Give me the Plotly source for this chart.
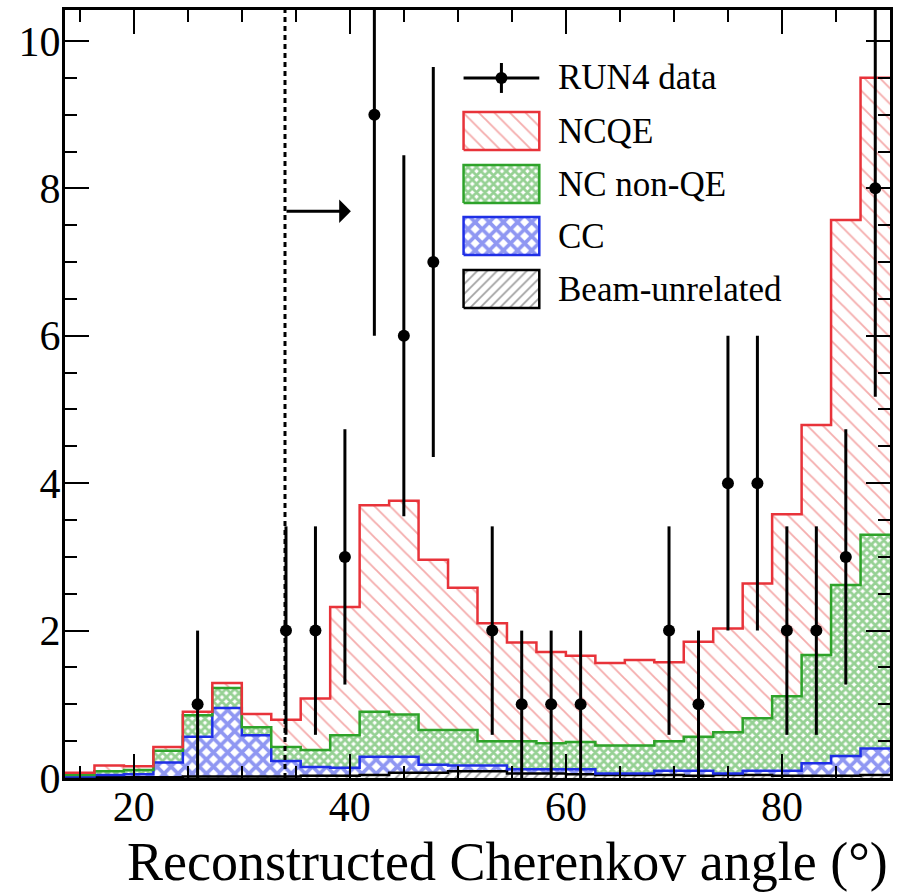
import numpy as np
import plotly.graph_objects as go

# ---------------- data (bins of width 90/33 deg, shown from bin 5 to bin 32) ----------------
N_BINS_TOTAL = 33
X_MAX = 90.0
FIRST_BIN = 5

ncqe = [0.03, 0.08, 0.05, 0.05, 0.05, 0.07, 0.18, 0.37, 0.70, 1.74, 2.80, 2.90, 2.31, 1.93,
        1.60, 1.34, 1.24, 1.17, 1.12, 1.16, 1.07, 1.29, 1.41, 1.83, 2.47, 3.12, 4.95, 6.20]
nc_nonqe = [0.02, 0.05, 0.06, 0.16, 0.29, 0.27, 0.11, 0.19, 0.23, 0.44, 0.61, 0.57, 0.47, 0.48,
            0.33, 0.38, 0.35, 0.37, 0.38, 0.38, 0.40, 0.46, 0.56, 0.71, 1.01, 1.47, 2.32, 2.90]
cc = [0.01, 0.03, 0.04, 0.20, 0.54, 0.93, 0.56, 0.21, 0.12, 0.11, 0.25, 0.22, 0.11, 0.08,
      0.08, 0.06, 0.06, 0.07, 0.02, 0.02, 0.06, 0.07, 0.02, 0.06, 0.07, 0.17, 0.27, 0.36]
beam_unrelated = [0.01, 0.01, 0.01, 0.01, 0.02, 0.02, 0.02, 0.02, 0.03, 0.03, 0.04, 0.07, 0.07, 0.09,
                  0.09, 0.06, 0.06, 0.05, 0.04, 0.04, 0.04, 0.03, 0.04, 0.04, 0.03, 0.03, 0.03, 0.04]
data_counts = [0, 0, 0, 0, 1, 0, 0, 2, 2, 3, 9, 6, 7, 0,
               2, 1, 1, 1, 0, 0, 2, 1, 4, 4, 2, 2, 3, 8]

labels = ["RUN4 data", "NCQE", "NC non-QE", "CC", "Beam-unrelated"]
CUT_ANGLE = 34.0
ARROW_END = 40.1
ARROW_Y = 7.69
Y_MAX = 10.42

# ---------------- derived ----------------
all_edges = np.linspace(0, X_MAX, N_BINS_TOTAL + 1)
edges = all_edges[FIRST_BIN:]
centers = 0.5 * (edges[:-1] + edges[1:])

comp = [np.array(beam_unrelated), np.array(cc), np.array(nc_nonqe), np.array(ncqe)]
cum = np.cumsum(np.vstack(comp), axis=0)

FONT = "Liberation Serif"
RED, GREEN, BLUE, BLACK = "#e8333a", "#2ea32a", "#1f2fe6", "#000000"
styles = [
    dict(line=BLACK, pat=dict(shape="/", fgcolor="#444444", bgcolor="white", size=7, solidity=0.25)),
    dict(line=BLUE, pat=dict(shape="x", fgcolor=BLUE, bgcolor="white", size=10, solidity=0.6)),
    dict(line=GREEN, pat=dict(shape="x", fgcolor=GREEN, bgcolor="white", size=6, solidity=0.72)),
    dict(line=RED, pat=dict(shape="\\", fgcolor="#ea5a5a", bgcolor="white", size=11, solidity=0.17)),
]

fig = go.Figure()

for i in range(4):
    y = np.append(cum[i], cum[i][-1])
    fig.add_trace(go.Scatter(
        x=edges, y=y, mode="lines", line=dict(shape="hv", color=styles[i]["line"], width=2.5),
        fill="tozeroy" if i == 0 else "tonexty", fillcolor="rgba(0,0,0,0)",
        fillpattern=styles[i]["pat"], showlegend=False, hoverinfo="skip"))

counts = np.array(data_counts, dtype=float)
mask = counts > 0
fig.add_trace(go.Scatter(
    x=centers[mask], y=counts[mask], mode="markers",
    marker=dict(color=BLACK, size=12),
    error_y=dict(type="data", array=np.sqrt(counts[mask]), thickness=3, width=0, color=BLACK),
    showlegend=False))

# ---------------- custom ROOT-style legend on an overlay axis ----------------
LX0, LX1 = 0.4831, 0.5749
LTX = 0.5954
ROWS = [0.9115, 0.8424, 0.7734, 0.7057, 0.6367]
HALF_H = 0.0247

# data symbol
fig.add_trace(go.Scatter(x=[LX0, LX1], y=[ROWS[0], ROWS[0]], mode="lines", xaxis="x2", yaxis="y2",
                         line=dict(color=BLACK, width=3), showlegend=False, hoverinfo="skip"))
fig.add_trace(go.Scatter(x=[(LX0 + LX1) / 2] * 2, y=[ROWS[0] - 0.0195, ROWS[0] + 0.0195], mode="lines",
                         xaxis="x2", yaxis="y2", line=dict(color=BLACK, width=3),
                         showlegend=False, hoverinfo="skip"))
fig.add_trace(go.Scatter(x=[(LX0 + LX1) / 2], y=[ROWS[0]], mode="markers", xaxis="x2", yaxis="y2",
                         marker=dict(color=BLACK, size=12), showlegend=False, hoverinfo="skip"))

for row, i in zip(ROWS[1:], [3, 2, 1, 0]):
    fig.add_trace(go.Scatter(
        x=[LX0, LX1, LX1, LX0, LX0], y=[row - HALF_H, row - HALF_H, row + HALF_H, row + HALF_H, row - HALF_H],
        mode="lines", fill="toself", fillcolor="rgba(0,0,0,0)", fillpattern=styles[i]["pat"],
        line=dict(color=styles[i]["line"], width=2.5), xaxis="x2", yaxis="y2",
        showlegend=False, hoverinfo="skip"))

for row, lab in zip(ROWS, labels):
    fig.add_annotation(x=LTX, y=row, xref="paper", yref="paper", text=lab, showarrow=False,
                       xanchor="left", yanchor="middle", font=dict(family=FONT, size=35, color=BLACK))

# cut line and arrow
fig.add_shape(type="line", x0=CUT_ANGLE, x1=CUT_ANGLE, y0=0, y1=1, xref="x", yref="paper",
              line=dict(color=BLACK, width=3, dash="5px,4px"), layer="above")
fig.add_annotation(x=ARROW_END, y=ARROW_Y, ax=CUT_ANGLE, ay=ARROW_Y, xref="x", yref="y",
                   axref="x", ayref="y", text="", showarrow=True, arrowhead=1, arrowsize=1.3,
                   arrowwidth=3, arrowcolor=BLACK)

# x title, right aligned like ROOT
fig.add_annotation(x=1.0, y=-0.1094, xref="paper", yref="paper", text="Reconstructed Cherenkov angle (°)",
                   showarrow=False, xanchor="right", yanchor="middle",
                   font=dict(family=FONT, size=54, color=BLACK))

axis_common = dict(ticks="inside", ticklen=24, tickwidth=2, tickcolor=BLACK, mirror="ticks",
                   showline=True, linewidth=3, linecolor=BLACK, showgrid=False, zeroline=False,
                   tickfont=dict(family=FONT, size=42, color=BLACK))

fig.update_layout(
    width=900, height=894, margin=dict(l=65, r=7, t=10, b=116),
    paper_bgcolor="white", plot_bgcolor="white",
    xaxis=dict(range=[edges[0], X_MAX], dtick=20, tick0=0, ticklabelstandoff=-10,
               minor=dict(dtick=5, ticklen=12, tickwidth=2, ticks="inside", tickcolor=BLACK),
               **axis_common),
    yaxis=dict(range=[0, Y_MAX], dtick=2, tick0=0, ticklabelstandoff=-7,
               minor=dict(dtick=0.5, ticklen=12, tickwidth=2, ticks="inside", tickcolor=BLACK),
               **axis_common),
    xaxis2=dict(range=[0, 1], overlaying="x", visible=False, anchor="y2", fixedrange=True),
    yaxis2=dict(range=[0, 1], overlaying="y", visible=False, anchor="x2", fixedrange=True),
    showlegend=False,
)

fig.write_html("out.html")
